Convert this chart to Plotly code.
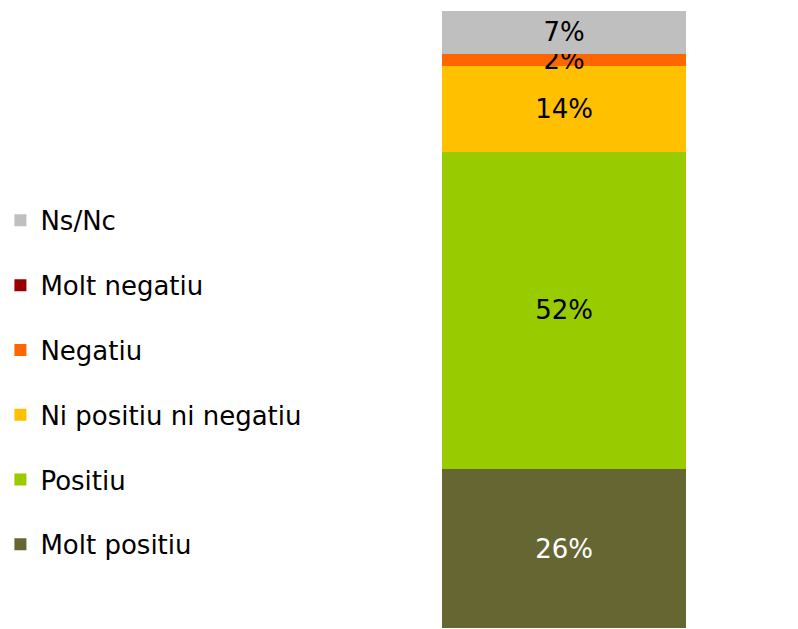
import plotly.graph_objects as go

categories = ["Molt positiu", "Positiu", "Ni positiu ni negatiu", "Negatiu", "Molt negatiu", "Ns/Nc"]
values = [26, 52, 14, 2, 0, 7]
colors = ["#666633", "#99CC00", "#FFC000", "#FF6600", "#990000", "#BFBFBF"]
text_colors = ["white", "black", "black", "black", "black", "black"]

fig = go.Figure()
for i, (cat, val, col, tcol) in enumerate(zip(categories, values, colors, text_colors)):
    fig.add_trace(go.Bar(
        x=[0], y=[val], name=cat, legendgroup=cat,
        legendrank=len(categories) - i,  # Ns/Nc on top of the legend
        marker=dict(color=col, line=dict(width=0)),
        text=[f"{val}%" if val > 0 else ""],
        textposition="inside", insidetextanchor="middle",
        constraintext="none", cliponaxis=False,
        textfont=dict(color=tcol, size=26, family="DejaVu Sans"),
        width=1,
    ))

fig.update_layout(
    width=798, height=629,
    barmode="stack",
    margin=dict(l=0, r=0, t=11, b=1),
    paper_bgcolor="white", plot_bgcolor="white",
    font=dict(family="DejaVu Sans", size=26, color="black"),
    showlegend=True,
    legend=dict(
        x=-0.002, xanchor="left", y=0.398, yanchor="middle",
        traceorder="grouped", tracegroupgap=28,
        font=dict(size=26),
    ),
)
fig.update_xaxes(domain=[441 / 798, 686 / 798], range=[-0.5, 0.5], visible=False)
fig.update_yaxes(range=[0, 101], visible=False)

# page has default body margin, drop it so the figure sits at 0,0
fig.write_html("out.html", config={"displayModeBar": False},
               post_script="document.body.style.margin='0';")
